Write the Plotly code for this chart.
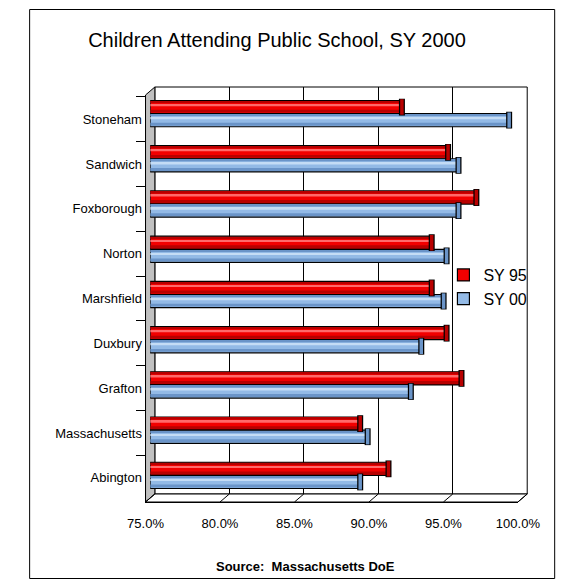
import plotly.graph_objects as go

# ---- data -------------------------------------------------------------
towns = ["Stoneham", "Sandwich", "Foxborough", "Norton", "Marshfield",
         "Duxbury", "Grafton", "Massachusetts", "Abington"]
sy95 = [91.9, 95.0, 96.9, 93.9, 93.9, 94.9, 95.9, 89.1, 91.0]
sy00 = [99.1, 95.7, 95.7, 94.9, 94.7, 93.2, 92.5, 89.6, 89.1]
x_ticks = [75, 80, 85, 90, 95, 100]
x_tick_labels = [f"{v:.1f}%" for v in x_ticks]
series = [
    # name, values, shade, body, highlight
    ("SY 95", sy95, "#B80000", "#F20000", "#FF6A6A"),
    ("SY 00", sy00, "#6A94C8", "#93BAE6", "#C4DCF5"),
]

# ---- page geometry (pixels) --------------------------------------------
W, H = 579, 586
FRONT_L, FRONT_R = 137, 537        # 75% .. 100% on the front edge
FRONT_T, FRONT_B = 95, 502         # top / bottom of the front edge
DEPTH_X, DEPTH_Y = 10, -8          # shift from front edge to back wall
XMIN, XMAX = 75, 100


def px(x):
    return x / W


def py(y):
    return 1 - y / H


def front_x(v):
    return FRONT_L + (v - XMIN) / (XMAX - XMIN) * (FRONT_R - FRONT_L)


fig = go.Figure()

# invisible trace that carries the category axis
fig.add_trace(go.Scatter(x=[XMIN] * len(towns), y=towns, mode="markers",
                         marker=dict(opacity=0), showlegend=False,
                         hoverinfo="skip", xaxis="x", yaxis="y"))
# invisible trace so the back-wall subplot gets drawn with its gridlines
fig.add_trace(go.Scatter(x=[XMIN], y=[0], mode="markers",
                         marker=dict(opacity=0), showlegend=False,
                         hoverinfo="skip", xaxis="x2", yaxis="y2"))

BAR_W = 0.29
positions = list(range(len(towns)))
for k, (name, vals, dark, body, light) in enumerate(series):
    off = -BAR_W if k == 0 else 0.0
    lengths = [v - XMIN for v in vals]   # bars grow from the 75% floor

    def layer(width_frac, start_frac, color):
        fig.add_trace(go.Bar(x=lengths, y=positions, orientation="h", base=XMIN,
                             width=BAR_W * width_frac,
                             offset=off + BAR_W * start_frac,
                             marker=dict(color=color, line=dict(width=0)),
                             showlegend=False, hoverinfo="skip",
                             xaxis="x3", yaxis="y3"))

    # cylinder body with outline
    fig.add_trace(go.Bar(x=lengths, y=positions, orientation="h", base=XMIN,
                         width=BAR_W, offset=off, name=name,
                         customdata=vals, hovertemplate="%{customdata:.1f}%",
                         marker=dict(color=body, line=dict(color="black", width=1.2)),
                         xaxis="x3", yaxis="y3"))
    layer(0.22, 0.70, dark)     # shading toward the lower edge
    layer(0.12, 0.07, dark)     # shading at the top edge
    layer(0.13, 0.30, light)    # light reflection stripe

    # end caps of the cylinders
    cap_y = [p + off + BAR_W / 2 for p in positions]
    fig.add_trace(go.Scatter(x=vals, y=cap_y, mode="markers",
                             marker=dict(symbol="line-ns", size=12,
                                         line=dict(color="black", width=6)),
                             showlegend=False, hoverinfo="skip",
                             xaxis="x3", yaxis="y3"))
    fig.add_trace(go.Scatter(x=vals, y=cap_y, mode="markers",
                             marker=dict(symbol="line-ns", size=11,
                                         line=dict(color=dark, width=3.5)),
                             showlegend=False, hoverinfo="skip",
                             xaxis="x3", yaxis="y3"))

# ---- 3-D frame: back wall outline, left wall, floor ----------------------
BACK_L, BACK_R = FRONT_L + DEPTH_X, FRONT_R + DEPTH_X
BACK_T, BACK_B = FRONT_T + DEPTH_Y, FRONT_B + DEPTH_Y
shapes = []
shapes.append(dict(type="rect", xref="paper", yref="paper",
                   x0=px(BACK_L), x1=px(BACK_R), y0=py(BACK_B), y1=py(BACK_T),
                   fillcolor="rgba(0,0,0,0)", line=dict(color="black", width=1),
                   layer="below"))
shapes.append(dict(type="path", xref="paper", yref="paper",
                   path=(f"M{px(FRONT_L)},{py(FRONT_T)} L{px(BACK_L)},{py(BACK_T)} "
                         f"L{px(BACK_L)},{py(BACK_B)} L{px(FRONT_L)},{py(FRONT_B)} Z"),
                   fillcolor="#C0C0C0", line=dict(color="black", width=1), layer="below"))
shapes.append(dict(type="path", xref="paper", yref="paper",
                   path=(f"M{px(FRONT_L)},{py(FRONT_B)} L{px(BACK_L)},{py(BACK_B)} "
                         f"L{px(BACK_R)},{py(BACK_B)} L{px(FRONT_R)},{py(FRONT_B)} Z"),
                   fillcolor="white", line=dict(color="black", width=1), layer="below"))
for v in x_ticks:
    fx = front_x(v)
    shapes.append(dict(type="line", xref="paper", yref="paper",
                       x0=px(fx), y0=py(FRONT_B), x1=px(fx + DEPTH_X), y1=py(BACK_B),
                       line=dict(color="black", width=1), layer="below"))
# chart border
shapes.append(dict(type="rect", xref="paper", yref="paper",
                   x0=px(12.5), x1=px(576.5), y0=py(578.5), y1=py(9.5),
                   line=dict(color="black", width=1), fillcolor="rgba(0,0,0,0)"))

FONT = "Arial, Liberation Sans, sans-serif"

fig.update_layout(
    width=W, height=H,
    margin=dict(l=0, r=0, t=0, b=0),
    paper_bgcolor="white", plot_bgcolor="rgba(0,0,0,0)",
    barmode="overlay",
    font=dict(family=FONT, size=13, color="black"),
    title=dict(text="Children Attending Public School, SY 2000",
               x=px(277), xanchor="center", y=py(40), yanchor="middle",
               font=dict(family=FONT, size=20, color="black")),
    showlegend=True,
    legend=dict(x=px(457), y=py(258), xanchor="left", yanchor="top",
                font=dict(family=FONT, size=16, color="black"),
                bgcolor="rgba(0,0,0,0)", itemwidth=30, traceorder="normal"),
    shapes=shapes,
    # front edge: value labels and category labels
    xaxis=dict(domain=[px(FRONT_L), px(FRONT_R)], range=[XMIN, XMAX], anchor="y",
               tickvals=x_ticks, ticktext=x_tick_labels,
               showgrid=False, zeroline=False, showline=True,
               linecolor="black", linewidth=1, ticks="", ticklabelstandoff=9,
               tickfont=dict(family=FONT, size=13)),
    yaxis=dict(domain=[py(FRONT_B), py(FRONT_T)], anchor="x", type="category",
               categoryorder="array", categoryarray=towns, autorange="reversed",
               showgrid=False, zeroline=False, showline=True, linecolor="black",
               linewidth=1, ticks="outside", ticklen=9, tickcolor="black",
               tickson="boundaries", tickfont=dict(family=FONT, size=13)),
    # back wall gridlines
    xaxis2=dict(domain=[px(BACK_L), px(BACK_R)], range=[XMIN, XMAX], anchor="y2",
                tickvals=x_ticks, showticklabels=False, ticks="",
                showgrid=True, gridcolor="black", gridwidth=1, zeroline=False,
                showline=False),
    yaxis2=dict(domain=[py(BACK_B), py(BACK_T)], anchor="x2", range=[0, 1],
                showticklabels=False, ticks="", showline=False,
                showgrid=False, zeroline=False),
    # cylinders sit halfway between front edge and back wall
    xaxis3=dict(domain=[px(FRONT_L + DEPTH_X / 2), px(FRONT_R + DEPTH_X / 2)],
                range=[XMIN, XMAX], anchor="y3", visible=False, showgrid=False),
    yaxis3=dict(domain=[py(FRONT_B + DEPTH_Y / 2), py(FRONT_T + DEPTH_Y / 2)],
                anchor="x3", range=[len(towns) - 0.5, -0.5], visible=False,
                showgrid=False),
    annotations=[dict(text="<b>Source:\u00a0 Massachusetts DoE</b>",
                      xref="paper", yref="paper", x=px(309), y=py(566),
                      xanchor="center", yanchor="middle", showarrow=False,
                      font=dict(family=FONT, size=13, color="black"))],
)

fig.write_html("out.html")
